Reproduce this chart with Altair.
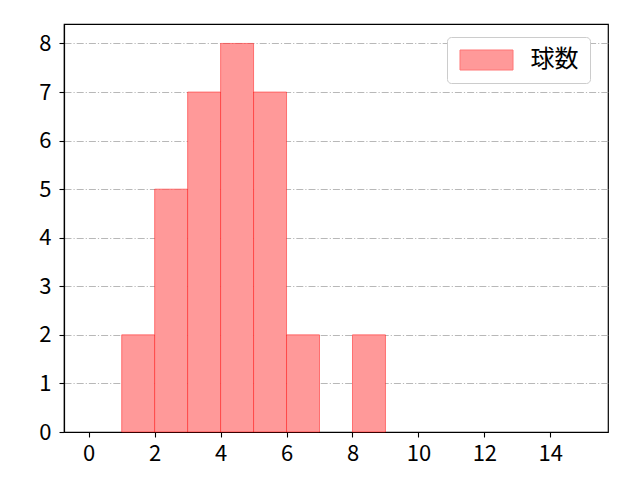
import altair as alt
import pandas as pd

# histogram bins (left edges, width 1) and counts
bin_left = [1, 2, 3, 4, 5, 6, 8]
counts = [2, 5, 7, 8, 7, 2, 2]
series_name = '球数'
x_ticks = [0, 2, 4, 6, 8, 10, 12, 14]
y_ticks = [0, 1, 2, 3, 4, 5, 6, 7, 8]

df = pd.DataFrame({
    'left': bin_left,
    'right': [b + 1 for b in bin_left],
    'count': counts,
    'series': [series_name] * len(bin_left),
})

font = 'Noto Sans CJK JP'

bars = alt.Chart(df).mark_rect(
    stroke='#ff0000', strokeOpacity=0.45, strokeWidth=1
).encode(
    x=alt.X('left:Q', title=None,
            scale=alt.Scale(domain=[-0.75, 15.75], nice=False, zero=False),
            axis=alt.Axis(values=x_ticks, grid=False, labelPadding=6)),
    x2='right:Q',
    y=alt.Y('count:Q', title=None,
            scale=alt.Scale(domain=[0, 8.4], nice=False),
            axis=alt.Axis(values=y_ticks, grid=True, labelPadding=8,
                          gridDash=[7, 2, 1.2, 2], gridColor='#b0b0b0', gridWidth=0.9)),
    y2=alt.datum(0),
    color=alt.Color('series:N',
                    scale=alt.Scale(domain=[series_name], range=['#ff9999']),
                    legend=alt.Legend(title=None, orient='none', legendX=383, legendY=13,
                                      symbolType='M-2.65,-1L2.65,-1L2.65,1L-2.65,1Z',
                                      symbolSize=400, symbolOffset=16.5,
                                      symbolStrokeColor='#ff7777',
                                      symbolStrokeWidth=1, symbolOpacity=1,
                                      labelFontSize=24, labelFont=font, labelOffset=32,
                                      labelExpr="datum.label + ' '",
                                      padding=11, strokeColor='#cccccc', cornerRadius=4,
                                      fillColor='white')),
    opacity=alt.value(1),
)

chart = bars.properties(
    width=544, height=408,
    autosize=alt.AutoSizeParams(type='none'),
    padding={'left': 56, 'top': 16, 'right': 24, 'bottom': 40},
).configure_view(
    stroke='black', strokeWidth=1.2
).configure_axis(
    labelFont=font, labelFontSize=22, labelColor='black',
    tickColor='black', tickSize=5, tickWidth=1.1,
    domainColor='black', domainWidth=1.2
)

chart.save('out.html', embed_options={'renderer': 'svg', 'actions': False})
